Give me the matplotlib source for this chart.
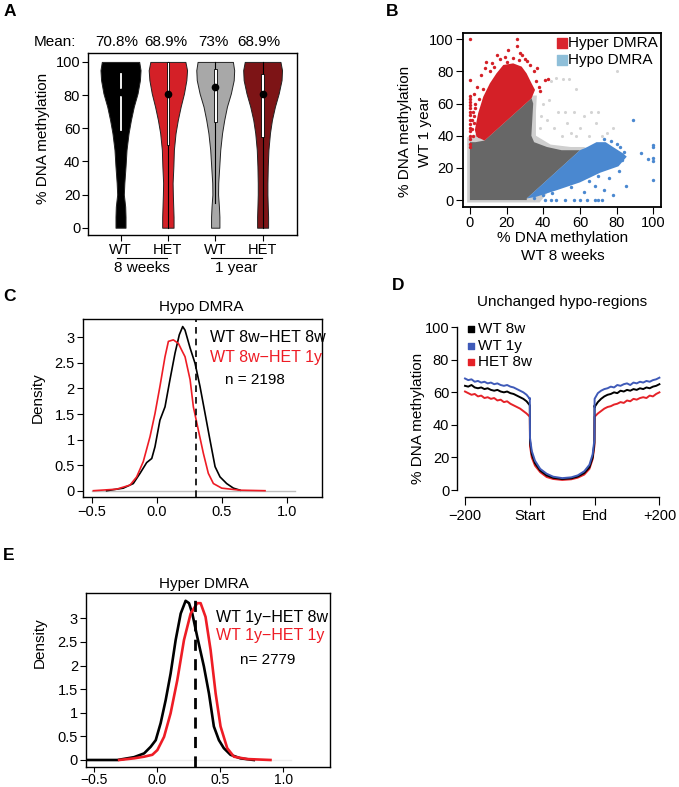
import numpy as np
import matplotlib
matplotlib.use("Agg")
import matplotlib.pyplot as plt

plt.rcParams['font.family'] = ['Liberation Sans', 'DejaVu Sans']
plt.rcParams['font.size'] = 10
plt.rcParams['axes.linewidth'] = 1.0
plt.rcParams['xtick.major.size'] = 4
plt.rcParams['ytick.major.size'] = 4
plt.rcParams['xtick.major.pad'] = 1.8
plt.rcParams['ytick.major.pad'] = 1.8

W, H = 679, 787

# ---------------- data ----------------
# A: violins (profile heights and half widths)
violin_y = [0, 6.6, 12.7, 20, 27, 37, 47, 57, 65, 73, 81, 89, 95, 100]
hw_wt8 = [0.106, 0.106, 0.099, 0.07, 0.081, 0.106, 0.127, 0.17, 0.22, 0.28, 0.36, 0.41, 0.423, 0.395]
hw_het8 = [0.12, 0.12, 0.113, 0.105, 0.10, 0.116, 0.127, 0.162, 0.21, 0.27, 0.34, 0.39, 0.405, 0.37]
hw_wt1 = [0.088, 0.088, 0.078, 0.06, 0.063, 0.085, 0.106, 0.144, 0.19, 0.247, 0.33, 0.39, 0.40, 0.373]
hw_het1 = [0.116, 0.116, 0.109, 0.102, 0.102, 0.109, 0.123, 0.155, 0.197, 0.26, 0.34, 0.40, 0.41, 0.377]
groups = ['WT', 'HET', 'WT', 'HET']
means = ['70.8%', '68.9%', '73%', '68.9%']
q1 = [58.9, 49.8, 63.9, 54.8]
q3 = [93.4, 100, 96, 93]
medians = [82, 80.5, 85, 80.5]
whisk_lo = [0, 0, 15, 0]
whisk_hi = [100, 100, 100, 100]
violin_cols = ['#000000', '#d42027', '#a8a8a8', '#7d1416']

# B: scatter regions (polygons of the dense clouds) and sparse points
grey_fringe = [(-1.5, -1.5), (-1.5, 39), (2, 40), (34, 65), (36.5, 65), (36, 55), (36, 40),
               (44, 34.5), (55, 33), (63, 33), (61, 31), (38, -1.5)]
grey_dense = [(0, 0), (0, 36), (3, 36), (8, 37), (33.6, 63.3), (34.5, 60), (34, 50),
              (33.5, 40), (35, 36), (42, 33), (50, 31), (60, 31), (31, 1), (31, 0)]
grey_pts_x = [80, 51, 54, 58, 47, 44, 48, 52, 57, 62, 66, 70, 40, 42, 46, 53, 60, 65, 72, 75, 38, 39, 43, 58, 50, 55, 69, 78]
grey_pts_y = [80, 75, 75, 69, 76, 74, 55, 55, 55, 52, 55, 55, 60, 50, 45, 48, 45, 40, 40, 42, 45, 52, 62, 40, 40, 42, 48, 45]
hyper_poly = [(8, 37), (33.6, 63.3), (35.5, 68.5), (33.6, 72.6), (30.9, 78.8), (28.2, 83), (23.6, 85),
              (18.2, 84), (14.5, 78.8), (10.9, 72.6), (7.3, 64.3), (4.5, 54), (2.7, 43.6), (3.6, 39.4)]
hyper_x = [0, 0, 0, 0, 0, 0, 0, 0, 0, 0, 0, 0, 0, 0, 0, 0, 0,
           25.5, 25.5, 21, 27.5, 28.5, 14.5, 9, 16.5, 23.5, 31, 36.5, 42.7, 41, 37.5, 12, 19, 30, 33,
           35, 6, 8, 4, 2, 3, 1.5, 1, 2, 1, 1.5, 5, 38, 36, 27, 20, 11, 13, 7, 5, 3, 2]
hyper_y = [100, 74.5, 65, 63, 61, 59, 57, 55, 53, 50, 47, 45, 43, 40, 38, 35, 33,
           100, 96, 93.5, 91.5, 90.5, 90, 86, 87.5, 88.5, 86.5, 82, 75.5, 74.5, 70.5, 85, 89, 88, 84,
           80, 78, 82, 70, 66, 60, 55, 50, 48, 44, 40, 40, 68, 74, 87, 86, 80, 83, 69, 63, 57, 52]
hypo_poly = [(31, 1), (60, 31), (64, 33), (69, 36), (74, 36), (78, 33), (83.5, 29), (85.5, 27),
             (81, 21), (71, 17), (60, 11), (47, 6), (36, 2)]
hypo_x = [100, 100, 100, 100, 100, 97, 93, 89, 85, 83, 84, 82, 80, 77, 73, 75, 79, 70, 65, 55, 45,
          40, 35, 41, 44, 47, 52, 57, 60, 64, 68, 70, 72, 62, 68, 76, 78, 73, 81]
hypo_y = [34, 33, 26, 24.5, 12.5, 25.5, 29.5, 50, 8.5, 25, 30, 33, 35, 37, 38, 21, 24, 15, 12, 8, 4.5,
          3, 1, 0, 0, 0, 0, 0, 0, 0, 0, 0, 0, 5, 9, 14, 3, 6, 18]

# C: Hypo DMRA densities
c_black_x = [-0.385, -0.257, -0.18, -0.128, -0.077, -0.038, -0.013, 0.025, 0.064, 0.102, 0.141, 0.174,
             0.2, 0.218, 0.257, 0.295, 0.333, 0.372, 0.41, 0.449, 0.487, 0.538, 0.59, 0.641]
c_black_y = [0, 0.05, 0.14, 0.34, 0.55, 0.63, 0.86, 1.38, 1.64, 2.17, 2.69, 3.05,
             3.21, 3.14, 2.79, 2.49, 2.04, 1.51, 0.99, 0.47, 0.27, 0.14, 0.05, 0.01]
c_red_x = [-0.487, -0.308, -0.205, -0.154, -0.103, -0.051, -0.013, 0.025, 0.064, 0.09, 0.128, 0.167,
           0.192, 0.218, 0.257, 0.282, 0.32, 0.359, 0.397, 0.436, 0.5, 0.641, 0.833]
c_red_y = [0, 0.03, 0.11, 0.27, 0.57, 1.06, 1.51, 2.04, 2.62, 2.92, 2.95, 2.88,
           2.75, 2.62, 2.17, 1.64, 1.19, 0.73, 0.34, 0.14, 0.05, 0.01, 0]

# D: unchanged hypo-regions profiles
d_x_left = [0, .05, .1, .15, .2, .25, .3, .35, .4, .45, .5, .55, .6, .65, .7, .75, .8, .85, .9, .95, 1.0]
d_x_mid = [1.0, 1.003, 1.03, 1.08, 1.16, 1.26, 1.36, 1.5, 1.64, 1.74, 1.84, 1.92, 1.97, 1.997, 2.0]
d_x_right = [2.0, 2.05, 2.1, 2.15, 2.2, 2.25, 2.3, 2.35, 2.4, 2.45, 2.5, 2.55, 2.6, 2.65, 2.7, 2.75,
             2.8, 2.85, 2.9, 2.95, 3.0]
wt8_left = [64, 63.5, 64.5, 63, 62.5, 63, 62, 62.5, 61.5, 61, 61.5, 60.5, 60, 60.5, 59.5, 59, 58, 57, 56, 54.5, 52]
wt8_mid = [52, 30, 22, 16.5, 12, 9, 7.5, 6.8, 7.2, 8.3, 10.5, 14, 20, 29, 52]
wt8_right = [51, 54, 56, 57.5, 58.5, 59, 60, 59.5, 61, 60.5, 61.5, 61, 62, 61.5, 62.5, 62, 63, 62.5, 63.5, 64, 65]
wt1_left = [68.5, 67.5, 68, 66.5, 67, 66, 66.5, 65.5, 66, 65, 65.5, 64.5, 64, 64.5, 63.5, 63, 62, 61, 60, 58.5, 56]
wt1_mid = [56.5, 32, 24, 18, 13, 10, 8.2, 7.3, 7.8, 9, 11.5, 15.5, 22, 31, 56]
wt1_right = [56, 59.5, 61, 62, 62.5, 63.5, 63, 64.5, 64, 65, 65.5, 64.5, 66, 65.5, 66.5, 66, 67, 66.5, 67.5, 68, 69]
het8_left = [60.5, 59.5, 58.5, 59, 57.5, 58, 56.5, 57, 56, 56.5, 55, 55.5, 54, 54.5, 53, 52, 51, 50, 48.5, 47, 45]
het8_mid = [45, 27, 20, 15, 11, 8, 6.8, 6.2, 6.6, 7.6, 9.5, 13, 19, 27, 45]
het8_right = [45, 47, 48.5, 50, 51, 51.5, 52.5, 53, 54, 53.5, 55, 54.5, 56, 55.5, 56.5, 57, 56.5, 58, 57.5, 59, 60]
d_ticklabels = ['\u2212200', 'Start', 'End', '+200']

# E: Hyper DMRA densities
e_black_x = [-0.559, -0.316, -0.185, -0.105, -0.053, -0.013, 0.026, 0.066, 0.105, 0.145, 0.185, 0.224,
             0.251, 0.277, 0.316, 0.369, 0.409, 0.448, 0.488, 0.527, 0.58, 0.659, 0.765]
e_black_y = [0, 0, 0.06, 0.14, 0.28, 0.42, 0.78, 1.27, 1.83, 2.54, 3.1, 3.37,
             3.32, 3.1, 2.61, 1.98, 1.41, 0.71, 0.42, 0.25, 0.11, 0.035, 0]
e_red_x = [-0.303, -0.185, -0.105, -0.04, 0, 0.053, 0.105, 0.158, 0.211, 0.264, 0.316, 0.343,
           0.382, 0.422, 0.462, 0.501, 0.554, 0.607, 0.712, 0.897]
e_red_y = [0, 0.035, 0.07, 0.11, 0.21, 0.49, 0.99, 1.69, 2.54, 3.1, 3.32, 3.32,
           3.03, 2.33, 1.41, 0.71, 0.25, 0.07, 0.02, 0]


def axes_px(fig, x0, x1, y0, y1):
    return fig.add_axes([x0 / W, 1 - y1 / H, (x1 - x0) / W, (y1 - y0) / H])


def ylab(ax, x, y, s, **kw):
    # rotated y label centred on (x, y) in axes fraction
    ax.text(x, y, s, transform=ax.transAxes, rotation=90, ha='center', va='center',
            fontsize=11, **kw)


fig = plt.figure(figsize=(W / 100, H / 100), dpi=100)

# ---------------- A ----------------
axA = axes_px(fig, 88.3, 296.7, 53.3, 235)
profiles = [hw_wt8, hw_het8, hw_wt1, hw_het1]
for i in range(4):
    pos = i + 1
    hw = np.array(profiles[i])
    axA.fill_betweenx(violin_y, pos - hw, pos + hw, facecolor=violin_cols[i],
                      edgecolor='#222222', linewidth=0.7, zorder=2)
    if i > 0:
        axA.plot([pos, pos], [whisk_lo[i], whisk_hi[i]], color='black', lw=0.8, zorder=3)
    bw = 0.028 if i > 0 else 0.02
    axA.add_patch(plt.Rectangle((pos - bw, q1[i]), 2 * bw, q3[i] - q1[i], facecolor='white',
                                edgecolor='black' if i > 0 else 'white', lw=0.6, zorder=4))
    axA.plot(pos, medians[i], 'o', color='black', ms=4.5, zorder=5)
axA.set_xlim(0.32, 4.72)
axA.set_ylim(-4.4, 105.2)
axA.set_xticks([1, 2, 3, 4])
axA.set_xticklabels(groups, fontsize=11)
axA.set_yticks([0, 20, 40, 60, 80, 100])
axA.tick_params(labelsize=10.5)
ylab(axA, -0.217, 0.534, '% DNA methylation')
tr = axA.get_xaxis_transform()
for p, m in zip([0.93, 1.96, 2.97, 3.92], means):
    axA.text(p, 1.062, m, transform=tr, ha='center', va='center', fontsize=11)
axA.text(0.07, 1.062, 'Mean:', transform=tr, ha='right', va='center', fontsize=11)
for (a, b), lab in zip([(0.92, 1.98), (2.92, 3.98)], ['8 weeks', '1 year']):
    axA.plot([a, b], [-0.127, -0.127], color='black', lw=0.8, transform=tr, clip_on=False)
    axA.text((a + b) / 2, -0.18, lab, transform=tr, ha='center', va='center', fontsize=11)

# ---------------- B ----------------
axB = axes_px(fig, 463.3, 660.7, 33.3, 207.3)
axB.fill(*zip(*grey_fringe), color='#cfcfcf', lw=0, zorder=1)
axB.scatter(grey_pts_x, grey_pts_y, s=5, color='#d4d4d4', lw=0, zorder=1)
axB.fill(*zip(*grey_dense), color='#676767', lw=0, zorder=2)
axB.fill(*zip(*hyper_poly), color='#d42027', lw=0, zorder=3)
axB.scatter(hyper_x, hyper_y, s=6, color='#d42027', lw=0, zorder=3)
axB.fill(*zip(*hypo_poly), color='#4a88d0', lw=0, zorder=3)
axB.scatter(hypo_x, hypo_y, s=6, color='#4a88d0', lw=0, zorder=3)
axB.set_xlim(-3.6, 104)
axB.set_ylim(-4.5, 103.7)
axB.set_xticks([0, 20, 40, 60, 80, 100])
axB.set_yticks([0, 20, 40, 60, 80, 100])
axB.tick_params(labelsize=10.5, length=5)
axB.tick_params(axis='x', pad=1.0)
for s in axB.spines.values():
    s.set_linewidth(1.3)
axB.scatter([0.5], [0.944], marker='s', s=50, color='#d9252e', transform=axB.transAxes, zorder=6)
axB.scatter([0.5], [0.846], marker='s', s=50, color='#8fbfd9', transform=axB.transAxes, zorder=6)
axB.text(0.53, 0.944, 'Hyper DMRA', transform=axB.transAxes, va='center', fontsize=11, zorder=6)
axB.text(0.53, 0.846, 'Hypo DMRA', transform=axB.transAxes, va='center', fontsize=11, zorder=6)
axB.text(0.505, -0.176, '% DNA methylation', transform=axB.transAxes, ha='center', va='center', fontsize=11)
axB.text(0.505, -0.278, 'WT 8 weeks', transform=axB.transAxes, ha='center', va='center', fontsize=11)
ylab(axB, -0.295, 0.434, '% DNA methylation')
ylab(axB, -0.194, 0.434, 'WT 1 year')


# ---------------- C and E ----------------
def density_panel(ax, bx, by, rx, ry, xlim, ylim, title, tpos, lab1, lab2, lpos, ntext, npos,
                  lw, vlw, base_col):
    ax.plot([-0.5, 1.06], [0, 0], color=base_col, lw=1.0, zorder=1)
    ax.plot(bx, by, color='black', lw=lw, zorder=3)
    ax.plot(rx, ry, color='#ee1c25', lw=lw, zorder=3)
    ax.axvline(0.3, color='black', lw=vlw, dashes=(4, 3), zorder=4)
    ax.set_xlim(*xlim)
    ax.set_ylim(*ylim)
    ax.set_xticks([-0.5, 0, 0.5, 1.0])
    ax.set_xticklabels(['\u22120.5', '0.0', '0.5', '1.0'])
    ax.set_yticks([0, 0.5, 1, 1.5, 2, 2.5, 3])
    ax.set_yticklabels(['0', '0.5', '1', '1.5', '2', '2.5', '3'])
    ax.tick_params(labelsize=10.5)
    ax.text(tpos[0], tpos[1], title, transform=ax.transAxes, ha='center', va='center', fontsize=11)
    ax.text(lpos[0], lpos[1], lab1, transform=ax.transAxes, va='center', fontsize=11.5)
    ax.text(lpos[0], lpos[2], lab2, transform=ax.transAxes, va='center', fontsize=11.5, color='#ee1c25')
    ax.text(npos[0], npos[1], ntext, transform=ax.transAxes, ha='center', va='center', fontsize=11)


axC = axes_px(fig, 82.7, 321.7, 319.3, 497.3)
density_panel(axC, c_black_x, c_black_y, c_red_x, c_red_y, (-0.569, 1.269), (-0.129, 3.352),
              'Hypo DMRA', (0.498, 1.071), 'WT 8w\u2212HET 8w', 'WT 8w\u2212HET 1y',
              (0.533, 0.90, 0.783), 'n = 2198', (0.721, 0.66), 1.2, 1.2, '#bdbdbd')
ylab(axC, -0.187, 0.558, 'Density')

axE = axes_px(fig, 86, 330, 593.3, 766.7)
density_panel(axE, e_black_x, e_black_y, e_red_x, e_red_y, (-0.566, 1.369), (-0.142, 3.529),
              'Hyper DMRA', (0.484, 1.054), 'WT 1y\u2212HET 8w', 'WT 1y\u2212HET 1y',
              (0.533, 0.863, 0.754), 'n= 2779', (0.746, 0.615), 1.9, 2.0, '#ececec')
axE.tick_params(axis='x', labelsize=10, pad=0.8, length=3.5)
ylab(axE, -0.189, 0.713, 'Density')

# ---------------- D ----------------
axD = axes_px(fig, 457.3, 662, 322, 496.7)
dx = d_x_left + d_x_mid + d_x_right
for yl, ym, yr, col in [(het8_left, het8_mid, het8_right, '#e52228'),
                        (wt8_left, wt8_mid, wt8_right, '#000000'),
                        (wt1_left, wt1_mid, wt1_right, '#3f5ab8')]:
    axD.plot(dx, yl + ym + yr, color=col, lw=1.4)
axD.set_xlim(-0.119, 3.04)
axD.set_ylim(-4.1, 103.2)
for s in ['top', 'right']:
    axD.spines[s].set_visible(False)
axD.spines['left'].set_bounds(0, 100)
axD.spines['bottom'].set_bounds(0, 3)
axD.set_xticks([0, 1, 2, 3])
axD.set_xticklabels(d_ticklabels)
axD.set_yticks([0, 20, 40, 60, 80, 100])
axD.tick_params(labelsize=10.5)
axD.tick_params(axis='x', length=5.5, pad=3)
ylab(axD, -0.192, 0.45, '% DNA methylation')
axD.text(0.51, 1.116, 'Unchanged hypo-regions', transform=axD.transAxes, ha='center', va='center',
         fontsize=11)
for yy, lab, col in [(0.96, 'WT 8w', '#000000'), (0.864, 'WT 1y', '#3f5ab8'), (0.773, 'HET 8w', '#e52228')]:
    axD.scatter([0.067], [yy], marker='s', s=16, color=col, transform=axD.transAxes, clip_on=False)
    axD.text(0.10, yy, lab, transform=axD.transAxes, va='center', fontsize=11)

# panel letters
for lab, (px, py) in zip('ABCDE', [(10, 12), (392, 12), (9, 297), (398, 285), (9, 556)]):
    fig.text(px / W, 1 - py / H, lab, fontsize=12.5, fontweight='bold', ha='center', va='center')

fig.savefig('out.png', dpi=100)
